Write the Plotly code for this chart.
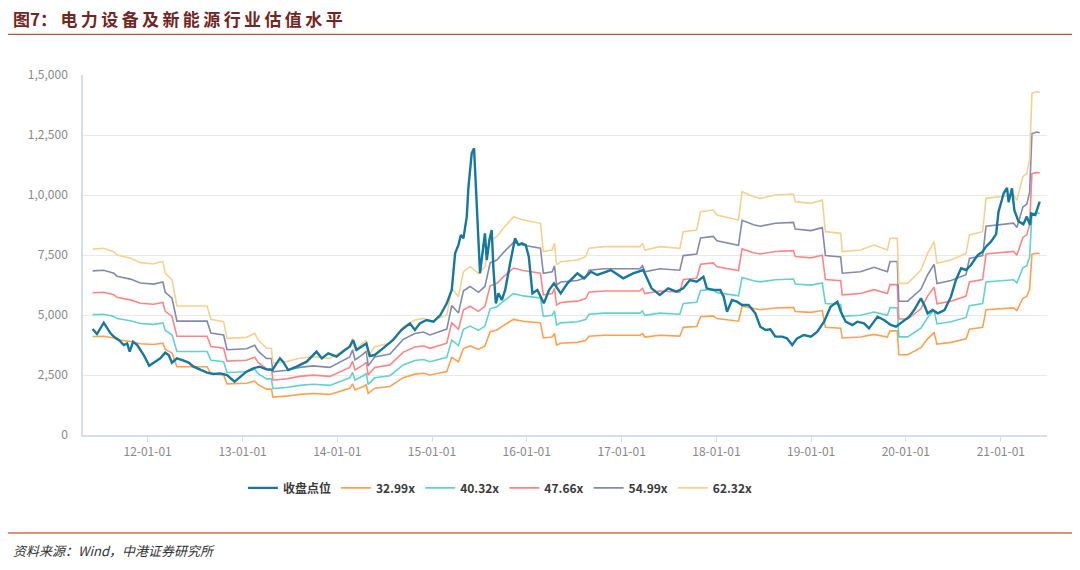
import plotly.graph_objects as go

# 收盘点位 (close)
close_dates = [
    "2011-06-03", "2011-06-20", "2011-07-16", "2011-08-11", "2011-08-24", "2011-09-12",
    "2011-10-01", "2011-10-14", "2011-10-24", "2011-11-06", "2011-11-22", "2011-12-17",
    "2012-01-07", "2012-01-30", "2012-02-19", "2012-03-09", "2012-03-22", "2012-04-04",
    "2012-04-23", "2012-05-19", "2012-06-07", "2012-06-26", "2012-07-22", "2012-08-17",
    "2012-09-11", "2012-10-07", "2012-11-02", "2012-12-01", "2012-12-24",
    "2013-01-16", "2013-02-11", "2013-03-08", "2013-04-03", "2013-04-26", "2013-05-12",
    "2013-05-25", "2013-06-06", "2013-06-26", "2013-07-28", "2013-09-05", "2013-10-13",
    "2013-11-02", "2013-11-27", "2013-12-29",
    "2014-01-30", "2014-02-18", "2014-03-03", "2014-03-16", "2014-04-04", "2014-04-23",
    "2014-05-06", "2014-05-25", "2014-06-26", "2014-08-04", "2014-09-05", "2014-10-08",
    "2014-10-27", "2014-11-15", "2014-12-11",
    "2015-01-07", "2015-02-02", "2015-02-27", "2015-03-18", "2015-03-31", "2015-04-13",
    "2015-04-22", "2015-05-02", "2015-05-15", "2015-05-21", "2015-06-03", "2015-06-12",
    "2015-06-22", "2015-07-05", "2015-07-16", "2015-07-24", "2015-07-31", "2015-08-10",
    "2015-08-19", "2015-08-26", "2015-09-04", "2015-09-14", "2015-09-27", "2015-10-10",
    "2015-10-29", "2015-11-17", "2015-11-30", "2015-12-13", "2015-12-28",
    "2016-01-09", "2016-01-23", "2016-02-11", "2016-03-07", "2016-03-27", "2016-04-15",
    "2016-05-11", "2016-06-06", "2016-07-14", "2016-08-09", "2016-09-04", "2016-09-29",
    "2016-11-20",
    "2017-01-07", "2017-02-14", "2017-03-25", "2017-04-26", "2017-05-28", "2017-06-29",
    "2017-07-31", "2017-08-26", "2017-09-21", "2017-10-17", "2017-11-12", "2017-11-25",
    "2017-12-20",
    "2018-01-16", "2018-01-29", "2018-02-11", "2018-03-02", "2018-03-21", "2018-04-10",
    "2018-05-05", "2018-05-31", "2018-06-19", "2018-07-09", "2018-07-28", "2018-08-16",
    "2018-09-11", "2018-09-30", "2018-10-20", "2018-11-08", "2018-12-04", "2018-12-31",
    "2019-01-25", "2019-02-20", "2019-03-17", "2019-04-12", "2019-04-25", "2019-05-14",
    "2019-06-09", "2019-06-28", "2019-07-24", "2019-08-12", "2019-09-14", "2019-10-09",
    "2019-11-04", "2019-11-24", "2019-12-19",
    "2020-01-14", "2020-02-02", "2020-02-15", "2020-02-28", "2020-03-12", "2020-03-25",
    "2020-04-13", "2020-05-03", "2020-05-29", "2020-06-23", "2020-07-12", "2020-08-01",
    "2020-08-20", "2020-09-08", "2020-10-04", "2020-10-23", "2020-11-05", "2020-11-24",
    "2020-12-14", "2020-12-23",
    "2021-01-05", "2021-01-12", "2021-01-25", "2021-01-31", "2021-02-13", "2021-02-22",
    "2021-03-10", "2021-03-29", "2021-04-11", "2021-04-24", "2021-04-28", "2021-05-14",
    "2021-05-31",
]
close = [
    4417, 4208, 4680, 4236, 4097, 3958,
    3750, 3819, 3472, 3889, 3750, 3333,
    2889, 3056, 3194, 3431, 3333, 3014,
    3194, 3097, 3014, 2847, 2708, 2597,
    2542, 2569, 2500, 2222, 2431,
    2639, 2778, 2847, 2736, 2708, 2986,
    3194, 3056, 2708, 2847, 3056, 3472,
    3194, 3403, 3264,
    3542, 3681, 3958, 3542, 3681, 3819,
    3292, 3333, 3611, 3958, 4375, 4653,
    4375, 4653, 4792,
    4722, 5000, 5486, 6042, 7569, 7917,
    8333, 8194, 9097, 10278, 11736, 11944,
    9931, 6736, 7708, 8403, 7292, 8125,
    8542, 6875, 5486, 5903, 5625, 6042,
    7153, 8194, 7917, 7986, 7917,
    7431, 5903, 6042, 5486, 6042, 6319,
    5903, 6319, 6736, 6528, 6806, 6667,
    6875,
    6528, 6736, 6875, 6111, 5833, 6111,
    5972, 6111, 6458, 6389, 6597, 6111,
    6042,
    6042, 5764, 5139, 5625, 5556, 5417,
    5417, 5069, 4514, 4375, 4403, 4097,
    4097, 4028, 3750, 4028, 4167, 4097,
    4306, 4722, 5347, 5556, 5139, 4722,
    4583, 4722, 4653, 4444, 4931, 4792,
    4583, 4514, 4722,
    4931, 5208, 5486, 5694, 5417, 5069,
    5208, 5069, 5208, 5764, 6458, 6944,
    6875, 7083, 7500, 7639, 7847, 8056,
    8370, 9300,
    9792, 10069, 10300, 9700, 10278, 9375,
    8900, 8780, 9100, 8750, 9236, 9167,
    9722,
]

# the 32.99x PE band
band_dates = [
    "2011-06-03", "2011-07-16", "2011-08-24", "2011-09-05", "2011-10-27", "2011-12-04",
    "2012-01-24", "2012-02-19", "2012-02-29", "2012-03-09", "2012-04-04", "2012-04-23",
    "2012-08-17", "2012-09-01", "2012-10-20", "2012-11-02",
    "2013-01-16", "2013-02-17", "2013-03-02", "2013-04-03", "2013-04-22", "2013-04-28",
    "2013-06-19", "2013-08-09", "2013-09-30", "2013-12-03",
    "2014-02-18", "2014-03-01", "2014-03-10", "2014-04-11", "2014-04-23", "2014-04-30",
    "2014-05-25", "2014-07-23", "2014-09-12", "2014-10-27", "2014-11-29", "2014-12-24",
    "2015-02-27", "2015-03-18", "2015-04-13", "2015-05-02", "2015-05-28", "2015-06-29",
    "2015-07-24", "2015-08-13", "2015-09-08", "2015-10-03", "2015-11-11", "2015-12-19",
    "2016-02-23", "2016-03-05", "2016-04-08", "2016-04-17", "2016-04-25", "2016-05-11",
    "2016-07-14", "2016-08-15", "2016-08-28", "2016-10-25",
    "2017-03-12", "2017-03-22", "2017-03-31", "2017-05-28", "2017-08-13", "2017-08-26",
    "2017-10-17", "2017-11-01", "2017-12-20",
    "2018-01-03", "2018-03-27", "2018-04-10", "2018-05-24", "2018-06-19", "2018-08-16",
    "2018-10-25", "2018-11-01", "2018-12-31",
    "2019-02-13", "2019-02-25", "2019-04-25", "2019-05-01", "2019-07-10", "2019-08-31",
    "2019-10-22", "2019-11-01", "2019-11-29", "2019-12-05",
    "2020-01-08", "2020-02-28", "2020-03-25", "2020-04-19", "2020-04-30", "2020-06-23",
    "2020-08-20", "2020-09-02", "2020-10-23", "2020-11-05",
    "2021-02-19", "2021-03-04", "2021-03-27", "2021-04-11", "2021-04-22", "2021-05-01",
    "2021-05-20", "2021-05-31",
]
band_3299 = [
    4103, 4117, 4044, 3970, 3897, 3801,
    3772, 3823, 3823, 3566, 3419, 2846,
    2846, 2551, 2500, 2132,
    2154, 2242, 2095, 1912, 1912, 1581,
    1618, 1691, 1728, 1691,
    1949, 2132, 1875, 2022, 2095, 1728,
    1949, 2022, 2390, 2537, 2573, 2500,
    2647, 3235, 3051, 3603, 3713, 3566,
    3713, 4301, 4375, 4559, 4816, 4742,
    4669, 4044, 4081, 4228, 3750, 3823,
    3860, 3934, 4118, 4154,
    4154, 4228, 4081, 4154, 4118, 4485,
    4522, 4926, 4963,
    4853, 4742, 5367, 5257, 5220, 5294,
    5316, 5147, 5110,
    5184, 4485, 4448, 4044, 4081, 4191,
    4081, 4338, 4338, 3345,
    3345, 3640, 4007, 4265, 3787, 3860,
    4007, 4411, 4485, 5220,
    5294, 5184, 5698, 5772, 6066, 7536,
    7573, 7554,
]

multiples = [32.99, 40.32, 47.66, 54.99, 62.32]
band_names = ["32.99x", "40.32x", "47.66x", "54.99x", "62.32x"]
band_colors = ["#ffa04d", "#5fd3cc", "#ff8585", "#8389b0", "#f6d18c"]

y_ticks = [0, 2500, 5000, 7500, 10000, 12500, 15000]
y_labels = ["0", "2,500", "5,000", "7,500", "1,0,000", "1,2,500", "1,5,000"]

fig = go.Figure()

for i, m in enumerate(multiples):
    fig.add_trace(go.Scatter(
        x=band_dates,
        y=[v * m / multiples[0] for v in band_3299],
        name=band_names[i],
        mode="lines",
        line=dict(color=band_colors[i], width=1.6),
        legendrank=i + 2,
    ))

fig.add_trace(go.Scatter(
    x=close_dates, y=close, name="收盘点位", mode="lines",
    line=dict(color="#16789e", width=2.4), legendrank=1,
))

font_cn = "Noto Sans CJK SC, Noto Sans, sans-serif"

# page body adds an 8px margin, so the figure is drawn 8px in and down
fig.update_layout(
    width=1080, height=570,
    margin=dict(l=75, r=41, t=67, b=143),
    paper_bgcolor="white", plot_bgcolor="white",
    font=dict(family=font_cn, size=12, color="#888888"),
    showlegend=True,
    legend=dict(
        orientation="h", x=0.433, xanchor="center", y=-0.147, yanchor="middle",
        font=dict(size=12, color="#3a3a3a", weight="bold"),
        itemwidth=30, traceorder="normal",
    ),
    xaxis=dict(
        type="date", range=["2011-04-27", "2021-06-28"],
        tick0="2012-01-01", dtick="M12", tickformat="%y-%m-%d",
        showgrid=False, showline=True, linecolor="#d5deec", linewidth=1.5,
        ticks="outside", ticklen=5, tickcolor="#d5deec",
        tickfont=dict(size=12, color="#888888"),
    ),
    yaxis=dict(
        range=[0, 15000], tickvals=y_ticks, ticktext=y_labels,
        showgrid=True, gridcolor="#e9e9e9", gridwidth=1,
        showline=True, linecolor="#d5deec", linewidth=1.5,
        zeroline=False, ticks="", ticklabelstandoff=11,
        tickfont=dict(size=12, color="#888888"),
    ),
)

# title, rules and source note around the chart
title = "图7：\u2009" + "\u2009".join("电力设备及新能源行业估值水平")
fig.add_annotation(
    text="<b>" + title + "</b>",
    xref="paper", yref="paper", x=-0.0745, y=1.158, xanchor="left", yanchor="middle",
    showarrow=False, font=dict(family=font_cn, size=17, color="#73261f"),
)
fig.add_shape(type="line", xref="paper", yref="paper",
              x0=-0.078, x1=1.03, y0=1.113, y1=1.113,
              line=dict(color="#b9583f", width=1.2))
fig.add_shape(type="line", xref="paper", yref="paper",
              x0=-0.078, x1=1.03, y0=-0.272, y1=-0.272,
              line=dict(color="#d4694a", width=1.5))
fig.add_annotation(
    text="<i>资料来源：Wind，中港证券研究所</i>",
    xref="paper", yref="paper", x=-0.0745, y=-0.322, xanchor="left", yanchor="middle",
    showarrow=False, font=dict(family=font_cn, size=13, color="#333333"),
)

fig.write_html("out.html")
